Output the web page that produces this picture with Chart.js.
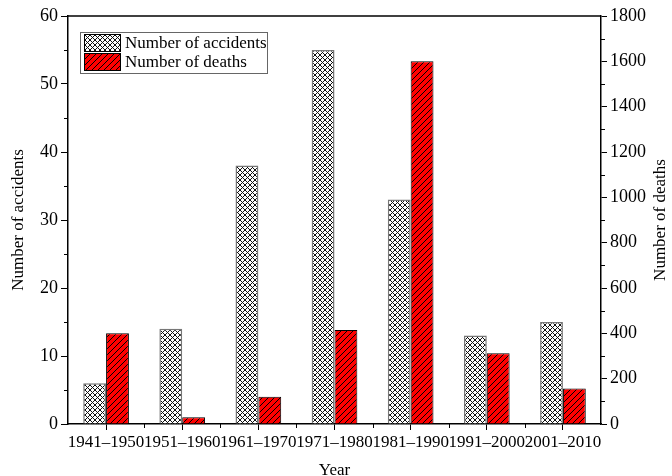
<!DOCTYPE html>
<html>
<head>
<meta charset="utf-8">
<script src="https://cdn.jsdelivr.net/npm/chart.js@4.4.0/dist/chart.umd.min.js"></script>
<style>
  html, body { margin: 0; padding: 0; background: #fff; }
</style>
</head>
<body>
<canvas id="chart" width="672" height="476"></canvas>
<script>
const decades = ['1941–1950', '1951–1960', '1961–1970', '1971–1980', '1981–1990', '1991–2000', '2001–2010'];
const accidents = [6, 14, 38, 55, 33, 13, 15];
const deaths = [400, 30, 120, 415, 1600, 312, 157];
const seriesNames = ['Number of accidents', 'Number of deaths'];

const FONT = 'Liberation Serif, Times New Roman, serif';

// pattern fills, like the hatched bars in the original
function makeCrossHatch() {
    const s = 5;
    const c = document.createElement('canvas');
    c.width = s; c.height = s;
    const g = c.getContext('2d');
    g.fillStyle = '#fff';
    g.fillRect(0, 0, s, s);
    g.fillStyle = '#111';
    for (let i = 0; i < s; i++) {
        g.fillRect(i, i, 1, 1);
        g.fillRect(i, s - 1 - i, 1, 1);
    }
    return g.createPattern(c, 'repeat');
}

function makeRedHatch() {
    const s = 6;
    const c = document.createElement('canvas');
    c.width = s; c.height = s;
    const g = c.getContext('2d');
    g.fillStyle = '#ff0000';
    g.fillRect(0, 0, s, s);
    g.fillStyle = '#000';
    for (let i = 0; i < s; i++) {
        g.fillRect(i, s - 1 - i, 1, 1);
    }
    return g.createPattern(c, 'repeat');
}

const crossFill = makeCrossHatch();
const redFill = makeRedHatch();

const extras = {
    id: 'extras',
    afterDraw(chart) {
        const { ctx, chartArea: a, scales } = chart;
        ctx.save();
        ctx.strokeStyle = '#000';

        // top frame line
        ctx.lineWidth = 1.5;
        ctx.beginPath();
        ctx.moveTo(a.left, a.top);
        ctx.lineTo(a.right, a.top);
        ctx.stroke();

        // minor ticks
        ctx.lineWidth = 1;
        ctx.beginPath();
        for (let v = 5; v < 60; v += 10) {
            const y = Math.round(scales.y.getPixelForValue(v)) + 0.5;
            ctx.moveTo(a.left - 4, y); ctx.lineTo(a.left, y);
        }
        for (let v = 100; v < 1800; v += 200) {
            const y = Math.round(scales.y1.getPixelForValue(v)) + 0.5;
            ctx.moveTo(a.right, y); ctx.lineTo(a.right + 4, y);
        }
        for (let i = 1; i < decades.length; i++) {
            const x = Math.round(scales.x.getPixelForValue(i - 0.5)) + 0.5;
            ctx.moveTo(x, a.bottom); ctx.lineTo(x, a.bottom + 4);
        }
        ctx.stroke();

        // right axis title, reads bottom to top
        ctx.save();
        ctx.translate(661, (a.top + a.bottom) / 2);
        ctx.rotate(-Math.PI / 2);
        ctx.font = '17px ' + FONT;
        ctx.fillStyle = '#000';
        ctx.textAlign = 'center';
        ctx.textBaseline = 'middle';
        ctx.fillText(seriesNames[1], 0, 0);
        ctx.restore();

        // legend box
        const bx = a.left + 12, by = a.top + 16, bw = 187, bh = 41;
        ctx.fillStyle = '#fff';
        ctx.fillRect(bx, by, bw, bh);
        ctx.strokeStyle = '#666';
        ctx.lineWidth = 1;
        ctx.strokeRect(bx + 0.5, by + 0.5, bw, bh);

        const fills = [crossFill, redFill];
        ctx.font = '17px ' + FONT;
        ctx.textBaseline = 'middle';
        ctx.textAlign = 'left';
        for (let i = 0; i < 2; i++) {
            const sy = by + 2 + i * 19;
            ctx.fillStyle = fills[i];
            ctx.fillRect(bx + 4, sy, 37, 18);
            ctx.strokeStyle = '#000';
            ctx.strokeRect(bx + 4.5, sy + 0.5, 36, 17);
            ctx.fillStyle = '#000';
            ctx.fillText(seriesNames[i], bx + 45, sy + 10);
        }
        ctx.restore();
    }
};

new Chart(document.getElementById('chart'), {
    type: 'bar',
    data: {
        labels: decades,
        datasets: [
            {
                label: seriesNames[0],
                data: accidents,
                yAxisID: 'y',
                backgroundColor: crossFill,
                borderColor: '#777',
                borderWidth: 1.5,
                categoryPercentage: 0.6,
                barPercentage: 1.0
            },
            {
                label: seriesNames[1],
                data: deaths,
                yAxisID: 'y1',
                backgroundColor: redFill,
                borderColor: '#000',
                borderWidth: 1,
                categoryPercentage: 0.6,
                barPercentage: 1.0
            }
        ]
    },
    options: {
        responsive: false,
        animation: false,
        devicePixelRatio: 1,
        layout: { padding: { top: 16, left: 0, right: 0, bottom: 0 } },
        plugins: {
            legend: { display: false },
            tooltip: { enabled: false }
        },
        scales: {
            x: {
                offset: true,
                grid: { offset: false, drawOnChartArea: false, tickLength: 6, color: '#000' },
                border: { color: '#000', width: 1.5 },
                ticks: { color: '#000', font: { family: FONT, size: 17 }, autoSkip: false, maxRotation: 0, padding: 2 },
                title: { display: true, text: 'Year', color: '#000', font: { family: FONT, size: 17 }, padding: { top: 0, bottom: -5 } },
                afterFit(s) { s.height = 52; }
            },
            y: {
                position: 'left',
                min: 0, max: 60,
                ticks: { stepSize: 10, color: '#000', font: { family: FONT, size: 18 }, padding: 3 },
                grid: { drawOnChartArea: false, tickLength: 7, color: '#000' },
                border: { color: '#000', width: 1.5 },
                title: { display: true, text: 'Number of accidents', color: '#000', font: { family: FONT, size: 17 }, padding: { top: 8, bottom: 0 } },
                afterFit(s) { s.width = 68; }
            },
            y1: {
                position: 'right',
                min: 0, max: 1800,
                ticks: { stepSize: 200, color: '#000', font: { family: FONT, size: 18 }, padding: 3, callback: v => String(v) },
                grid: { drawOnChartArea: false, tickLength: 6, color: '#000' },
                border: { color: '#000', width: 1.5 },
                afterFit(s) { s.width = 71; }
            }
        }
    },
    plugins: [extras]
});
</script>
</body>
</html>
